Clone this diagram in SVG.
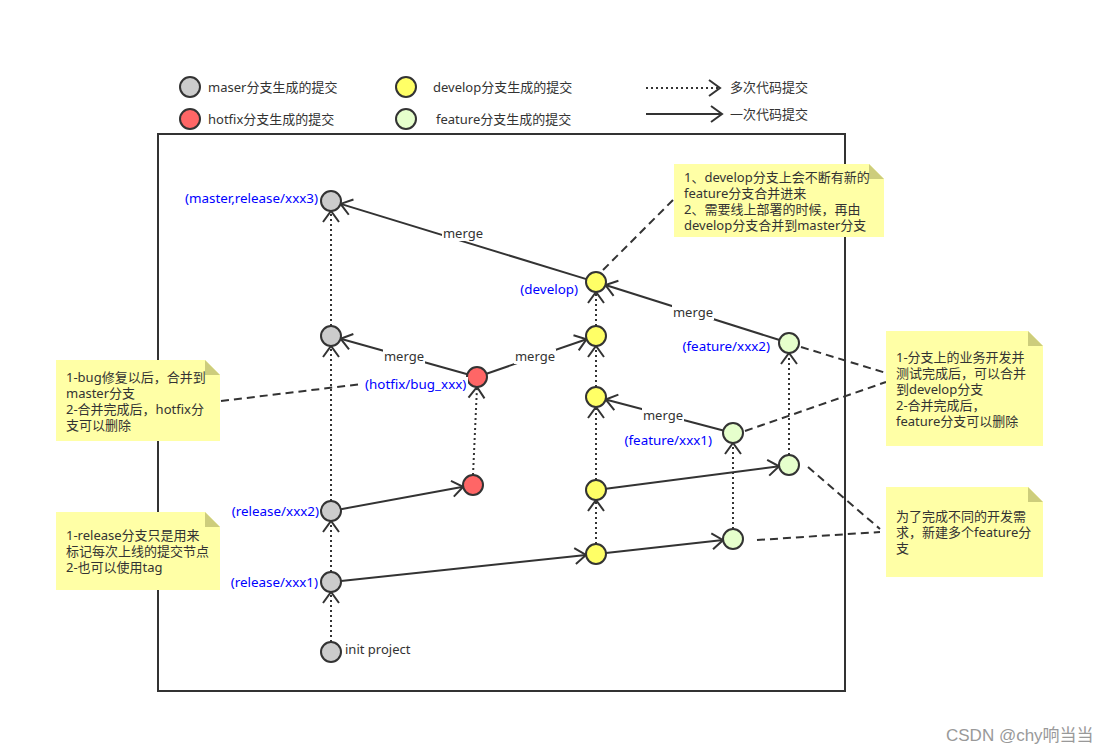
<svg xmlns="http://www.w3.org/2000/svg" width="1105" height="754" viewBox="0 0 1105 754">
<style>
.t{font-family:"Noto Sans","Noto Sans CJK SC",sans-serif;font-size:13px;fill:#333}
.w{font-family:"Noto Sans","Noto Sans CJK SC",sans-serif;font-size:13px;fill:#333}
.b{font-family:"Noto Sans","Noto Sans CJK SC",sans-serif;font-size:13.4px;fill:#0000ff}
.n{stroke:#333;stroke-width:2}
.g{fill:#cccccc}.r{fill:#ff6666}.y{fill:#ffff66}.f{fill:#e6ffcc}
.s{stroke:#333;stroke-width:2;fill:none;marker-end:url(#a)}
.d{stroke:#333;stroke-width:2;fill:none;stroke-dasharray:2 3;marker-end:url(#a)}
.k{stroke:#333;stroke-width:2;fill:none;stroke-dasharray:8 5}
.note{fill:#ffffa6}
.fold{fill:#cdcd7c}
</style>
<defs>
<marker id="a" viewBox="-13 -10 15 20" refX="0" refY="0" markerWidth="15" markerHeight="20" markerUnits="userSpaceOnUse" orient="auto">
<path d="M-11,-8 L0,0 L-11,8" fill="none" stroke="#333" stroke-width="2"/>
</marker>
</defs>
<rect width="1105" height="754" fill="#fff"/>
<g id="legend">
<circle class="n g" cx="190" cy="87" r="10"/>
<text class="t" x="208" y="92">maser分支生成的提交</text>
<circle class="n r" cx="190" cy="119" r="10"/>
<text class="t" x="208" y="124">hotfix分支生成的提交</text>
<circle class="n y" cx="406" cy="87" r="10"/>
<text class="t" x="433" y="92">develop分支生成的提交</text>
<circle class="n f" cx="406" cy="119" r="10"/>
<text class="t" x="436" y="124">feature分支生成的提交</text>
<line class="d" x1="646" y1="88" x2="720" y2="88"/>
<text class="t" x="730" y="92">多次代码提交</text>
<line class="s" x1="646" y1="114" x2="722" y2="114"/>
<text class="t" x="730" y="119">一次代码提交</text>
</g>
<rect id="frame" x="158" y="134" width="687" height="557" fill="none" stroke="#333" stroke-width="2"/>
<g id="connectors">
<line class="d" x1="331" y1="642" x2="331" y2="592"/>
<line class="d" x1="331" y1="572" x2="331" y2="521"/>
<line class="d" x1="331" y1="501" x2="331" y2="346"/>
<line class="d" x1="331" y1="326" x2="331" y2="211"/>
<line class="d" x1="473" y1="475" x2="477" y2="387"/>
<line class="d" x1="596" y1="544" x2="596" y2="500"/>
<line class="d" x1="596" y1="480" x2="596" y2="407"/>
<line class="d" x1="596" y1="387" x2="596" y2="346"/>
<line class="d" x1="596" y1="326" x2="596" y2="292"/>
<line class="d" x1="733" y1="529" x2="733" y2="443"/>
<line class="d" x1="789" y1="455" x2="789" y2="353"/>
<line class="s" x1="341" y1="581" x2="586" y2="555"/>
<line class="s" x1="340.8" y1="509.2" x2="463.2" y2="486.8"/>
<line class="s" x1="467.4" y1="374.3" x2="340.6" y2="338.7"/>
<line class="s" x1="486.5" y1="373.7" x2="586.5" y2="339.3"/>
<line class="s" x1="605.9" y1="488.7" x2="779.1" y2="466.3"/>
<line class="s" x1="605.9" y1="552.9" x2="723.1" y2="540.1"/>
<line class="s" x1="723.3" y1="430.5" x2="605.7" y2="399.5"/>
<line class="s" x1="779.5" y1="340" x2="605.5" y2="285"/>
<line class="s" x1="586.4" y1="279.1" x2="340.6" y2="203.9"/>
<line class="k" x1="221" y1="401" x2="362" y2="384"/>
<line class="k" x1="603" y1="270" x2="673" y2="200"/>
<line class="k" x1="801" y1="347" x2="886" y2="373"/>
<line class="k" x1="745" y1="431" x2="886" y2="382"/>
<line class="k" x1="808" y1="467" x2="880" y2="529"/>
<line class="k" x1="757" y1="540" x2="880" y2="532"/>
<g id="merge-labels">
<rect x="442" y="226" width="42" height="15" fill="#fff"/>
<text class="t" x="463" y="238" text-anchor="middle">merge</text>
<rect x="383" y="349" width="42" height="15" fill="#fff"/>
<text class="t" x="404" y="361" text-anchor="middle">merge</text>
<rect x="514" y="349" width="42" height="15" fill="#fff"/>
<text class="t" x="535" y="361" text-anchor="middle">merge</text>
<rect x="642" y="408" width="42" height="15" fill="#fff"/>
<text class="t" x="663" y="420" text-anchor="middle">merge</text>
<rect x="672" y="305" width="42" height="15" fill="#fff"/>
<text class="t" x="693" y="317" text-anchor="middle">merge</text>
</g>
</g>
<g id="master">
<circle class="n g" cx="331" cy="201" r="10"/>
<text class="b" x="318" y="203" text-anchor="end">(master,release/xxx3)</text>
<circle class="n g" cx="331" cy="336" r="10"/>
<circle class="n g" cx="331" cy="511" r="10"/>
<text class="b" x="319" y="516" text-anchor="end">(release/xxx2)</text>
<circle class="n g" cx="331" cy="582" r="10"/>
<text class="b" x="318" y="587" text-anchor="end">(release/xxx1)</text>
<circle class="n g" cx="331" cy="652" r="10"/>
<text class="t" x="345" y="654">init project</text>
</g>
<g id="hotfix">
<circle class="n r" cx="477" cy="377" r="10"/>
<rect x="364" y="377" width="104" height="15" fill="#fff"/>
<text class="b" x="365" y="389">(hotfix/bug_xxx)</text>
<circle class="n r" cx="473" cy="485" r="10"/>
</g>
<g id="develop">
<circle class="n y" cx="596" cy="282" r="10"/>
<text class="b" x="578" y="294" text-anchor="end">(develop)</text>
<circle class="n y" cx="596" cy="336" r="10"/>
<circle class="n y" cx="596" cy="397" r="10"/>
<circle class="n y" cx="596" cy="490" r="10"/>
<circle class="n y" cx="596" cy="554" r="10"/>
</g>
<g id="feature">
<circle class="n f" cx="789" cy="343" r="10"/>
<text class="b" x="770" y="351" text-anchor="end">(feature/xxx2)</text>
<circle class="n f" cx="733" cy="433" r="10"/>
<text class="b" x="712" y="445" text-anchor="end">(feature/xxx1)</text>
<circle class="n f" cx="789" cy="465" r="10"/>
<circle class="n f" cx="733" cy="539" r="10"/>
</g>
<g id="note-hotfix">
<path class="note" d="M56,360 H205 L220,375 V441 H56 Z"/>
<path class="fold" d="M205,360 L220,375 H205 Z"/>
<text class="w" x="66" y="382">1-bug修复以后，合并到</text>
<text class="w" x="66" y="398">master分支</text>
<text class="w" x="66" y="414">2-合并完成后，hotfix分</text>
<text class="w" x="66" y="430">支可以删除</text>
</g>
<g id="note-release">
<path class="note" d="M56,512 H205 L220,527 V590 H56 Z"/>
<path class="fold" d="M205,512 L220,527 H205 Z"/>
<text class="w" x="66" y="540">1-release分支只是用来</text>
<text class="w" x="66" y="556">标记每次上线的提交节点</text>
<text class="w" x="66" y="572">2-也可以使用tag</text>
</g>
<g id="note-develop">
<path class="note" d="M674,164 H869 L884,179 V237 H674 Z"/>
<path class="fold" d="M869,164 L884,179 H869 Z"/>
<text class="w" x="684" y="182">1、develop分支上会不断有新的</text>
<text class="w" x="684" y="198">feature分支合并进来</text>
<text class="w" x="684" y="214">2、需要线上部署的时候，再由</text>
<text class="w" x="684" y="230">develop分支合并到master分支</text>
</g>
<g id="note-feature-merge">
<path class="note" d="M886,331 H1028 L1043,346 V446 H886 Z"/>
<path class="fold" d="M1028,331 L1043,346 H1028 Z"/>
<text class="w" x="896" y="362">1-分支上的业务开发并</text>
<text class="w" x="896" y="378">测试完成后，可以合并</text>
<text class="w" x="896" y="394">到develop分支</text>
<text class="w" x="896" y="410">2-合并完成后，</text>
<text class="w" x="896" y="426">feature分支可以删除</text>
</g>
<g id="note-feature-new">
<path class="note" d="M886,487 H1028 L1043,502 V577 H886 Z"/>
<path class="fold" d="M1028,487 L1043,502 H1028 Z"/>
<text class="w" x="896" y="521">为了完成不同的开发需</text>
<text class="w" x="896" y="537">求，新建多个feature分</text>
<text class="w" x="896" y="553">支</text>
</g>
<text x="946" y="741" font-family="'Liberation Sans','Noto Sans CJK SC',sans-serif" font-size="17" fill="#999">CSDN @chy响当当</text>
</svg>
